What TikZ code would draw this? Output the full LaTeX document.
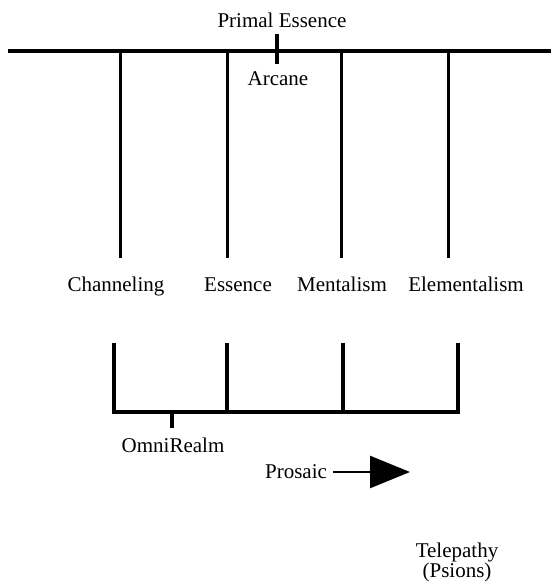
\documentclass[tikz,border=0pt]{standalone}
\usepackage{fontspec}
\setmainfont{Liberation Serif}
\usetikzlibrary{positioning, arrows.meta}

\begin{document}
\begin{tikzpicture}[x=1pt, y=-1pt]
\useasboundingbox (0,0) rectangle (551,583);

% labels of the realms (placed by their base line)
\begin{scope}[every node/.style={font=\fontsize{21}{18}\selectfont, inner sep=1pt, anchor=base}]
\node (prim)  at (282,28)  {Primal Essence};
\node (arc)   at (278,86)  {Arcane};
\node (chan)  at (116,291) {Channeling};
\node (ess)   at (238,291) {Essence};
\node (ment)  at (342,291) {Mentalism};
\node (elem)  at (466,291) {Elementalism};
\node (omni)  at (173,452) {OmniRealm};
\node (pros)  at (296,478) {Prosaic};
\node [align=center, anchor=center] (tele) at (457,562) {Telepathy\\(Psions)};
\end{scope}

% top bar with its tick
\coordinate (barL) at (8,51);
\coordinate (barR) at (551,51);
\draw [line width=3.5pt] (barL) -- (barR);
\draw [line width=4pt] (277,34) -- (277,64);
\foreach \x/\n in {120/chan, 227/ess, 341/ment, 448/elem}
  \draw [line width=3pt] (\x,51) -- (\x,258);

% bottom bracket
\begin{scope}[every path/.style={draw, line width=3.5pt}]
\coordinate (brL) at (114,343);
\coordinate (brR) at (458,343);
\draw (brL) -- (114,412) -- (458,412) -- (brR);
\draw (227,343) -- (227,412);
\draw (343,343) -- (343,412);
\draw (172,412) -- (172,428);
\end{scope}

% the arrow
\coordinate (tip) at (410,472);
\draw [line width=2.5pt, -{Triangle[width=32pt, length=40pt]}] (pros.east |- tip) ++(5,0) -- (tip);
\end{tikzpicture}
\end{document}
